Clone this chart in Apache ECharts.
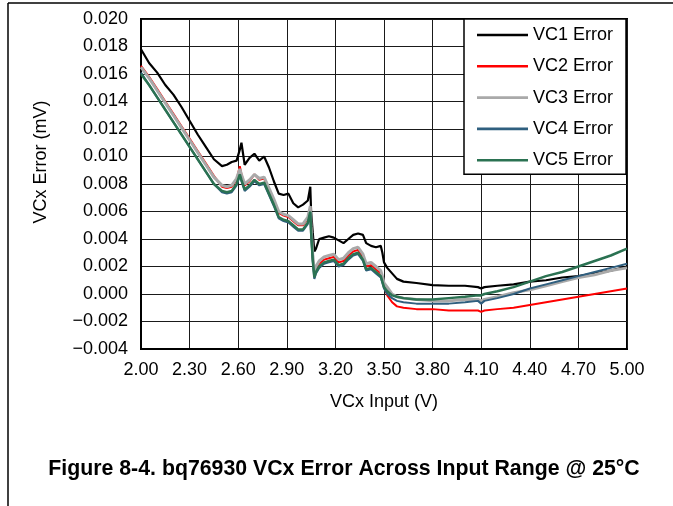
<!DOCTYPE html>
<html>
<head>
<meta charset="utf-8">
<script src="https://cdn.jsdelivr.net/npm/echarts@6/dist/echarts.min.js"></script>
<style>
html,body{margin:0;padding:0;background:#fff;}
#chart{width:673px;height:506px;}
</style>
</head>
<body>
<div id="chart"></div>
<script>
// ---- data ----
const seriesNames = ['VC1 Error', 'VC2 Error', 'VC3 Error', 'VC4 Error', 'VC5 Error'];
const xTickLabels = ['2.00','2.30','2.60','2.90','3.20','3.50','3.80','4.10','4.40','4.70','5.00'];
const yTickLabels = ['0.020','0.018','0.016','0.014','0.012','0.010','0.008','0.006','0.004','0.002','0.000','\u22120.002','\u22120.004'];

const vcxInput = [2.00,2.05,2.10,2.15,2.20,2.25,2.30,2.35,2.40,2.45,
  2.50,2.53,2.56,2.59,2.61,2.62,2.64,2.67,2.70,2.73,
  2.76,2.79,2.82,2.85,2.88,2.91,2.94,2.97,3.00,3.03,
  3.045,3.05,3.06,3.07,3.08,3.10,3.13,3.16,3.19,3.22,
  3.25,3.28,3.31,3.34,3.37,3.39,3.42,3.45,3.48,3.49,
  3.50,3.52,3.55,3.58,3.62,3.70,3.80,3.90,4.00,4.08,
  4.10,4.12,4.20,4.30,4.40,4.50,4.60,4.70,4.80,4.90,
  5.00];

const vc1Error = [0.0178,0.0168,0.0161,0.0152,0.0145,0.0136,0.0126,0.0116,0.0107,0.0098,
  0.0093,0.0094,0.0096,0.0097,0.0105,0.0110,0.0094,0.0099,0.0102,0.0097,
  0.0100,0.0092,0.0082,0.0073,0.0072,0.0073,0.0066,0.0063,0.0065,0.0068,
  0.0078,0.0060,0.0045,0.0031,0.0033,0.0040,0.0041,0.0042,0.0041,0.0039,
  0.0037,0.0040,0.0043,0.0044,0.0043,0.0037,0.0035,0.0034,0.0035,0.0030,
  0.0023,0.0019,0.0015,0.0011,0.0009,0.0008,0.00065,0.0006,0.0006,0.0005,
  0.0004,0.0005,0.0006,0.0007,0.0009,0.0010,0.0012,0.0013,0.0015,0.0017,
  0.0020];

const vc2Error = [0.0166,0.0158,0.0149,0.0140,0.0131,0.0122,0.0113,0.0104,0.0095,0.0086,
  0.0078,0.0077,0.0078,0.0083,0.0093,0.0087,0.0079,0.0082,0.0087,0.0083,
  0.0084,0.0076,0.0068,0.0059,0.0057,0.0056,0.0053,0.0050,0.0050,0.0055,
  0.0063,0.0048,0.0027,0.0014,0.0018,0.0022,0.0025,0.0026,0.0027,0.0023,
  0.0024,0.0028,0.0031,0.0032,0.0027,0.0020,0.0021,0.0018,0.0015,0.0010,
  0.0006,-0.0001,-0.0006,-0.0009,-0.0010,-0.0011,-0.0011,-0.0012,-0.0012,-0.0012,
  -0.0013,-0.0012,-0.0011,-0.0010,-0.0008,-0.0006,-0.0004,-0.0002,0.0000,0.0002,
  0.0004];

const vc3Error = [0.0165,0.0157,0.0148,0.0139,0.0130,0.0121,0.0112,0.0103,0.0094,0.0085,
  0.0079,0.0078,0.0079,0.0084,0.0091,0.0087,0.0080,0.0083,0.0087,0.0084,
  0.0085,0.0077,0.0069,0.0060,0.0058,0.0057,0.0054,0.0051,0.0051,0.0056,
  0.0064,0.0049,0.0029,0.0016,0.0020,0.0024,0.0027,0.0028,0.0029,0.0025,
  0.0026,0.0030,0.0033,0.0034,0.0029,0.0022,0.0023,0.0020,0.0017,0.0013,
  0.0008,0.0005,0.0000,-0.0002,-0.0003,-0.0004,-0.0005,-0.0005,-0.0004,-0.0004,
  -0.0005,-0.0004,-0.0002,0.0001,0.0003,0.0006,0.0009,0.0012,0.0014,0.0017,
  0.0019];

const vc4Error = [0.0161,0.0152,0.0143,0.0134,0.0125,0.0116,0.0107,0.0098,0.0089,0.0080,
  0.0074,0.0073,0.0074,0.0079,0.0086,0.0082,0.0075,0.0078,0.0082,0.0079,
  0.0080,0.0072,0.0064,0.0055,0.0053,0.0052,0.0049,0.0046,0.0046,0.0051,
  0.0059,0.0044,0.0024,0.0011,0.0015,0.0019,0.0022,0.0023,0.0024,0.0020,
  0.0021,0.0025,0.0028,0.0029,0.0024,0.0017,0.0018,0.0015,0.0012,0.0008,
  0.0004,0.0000,-0.0003,-0.0005,-0.0006,-0.0007,-0.0007,-0.0007,-0.0006,-0.0005,
  -0.0007,-0.0005,-0.0003,0.0000,0.0004,0.0007,0.0010,0.0013,0.0016,0.0019,
  0.0022];

const vc5Error = [0.0160,0.0152,0.0143,0.0134,0.0125,0.0116,0.0107,0.0098,0.0089,0.0080,
  0.0075,0.0074,0.0075,0.0080,0.0087,0.0083,0.0076,0.0079,0.0083,0.0080,
  0.0081,0.0073,0.0065,0.0056,0.0054,0.0053,0.0050,0.0047,0.0047,0.0052,
  0.0060,0.0045,0.0025,0.0012,0.0016,0.0020,0.0023,0.0024,0.0025,0.0021,
  0.0022,0.0026,0.0029,0.0030,0.0025,0.0018,0.0019,0.0016,0.0013,0.0009,
  0.0005,0.0002,-0.0001,-0.0002,-0.0003,-0.0004,-0.0004,-0.0003,-0.0002,-0.0001,
  -0.0001,0.0000,0.0002,0.0005,0.0009,0.0013,0.0016,0.0020,0.0024,0.0028,
  0.0033];

// ---- chart ----
const X0 = 2.0;          // axis origin (V); axis runs in offset units so ticks start at 0
const FONT = 'Liberation Sans, Arial, sans-serif';
const allSeries = [vc1Error, vc2Error, vc3Error, vc4Error, vc5Error];
const colors = ['#000000', '#ff0000', '#a9a9a9', '#2f5f7f', '#2b7252'];
const widths = [2.2, 2, 3, 2, 2.5];

const chart = echarts.init(document.getElementById('chart'), null, {renderer: 'canvas'});

const option = {
  animation: false,
  backgroundColor: '#ffffff',
  title: {
    text: 'Figure 8-4. bq76930 VCx Error Across Input Range @ 25\u00B0C',
    left: 344, top: 459, textAlign: 'center', padding: 0,
    textStyle: {fontFamily: FONT, fontSize: 21.3, fontWeight: 'bold', color: '#000'}
  },
  grid: {
    left: 141, top: 19, width: 486, height: 330,
    show: true, borderColor: '#000', borderWidth: 2, backgroundColor: 'transparent'
  },
  legend: {
    orient: 'vertical', left: 464, top: 19,
    padding: [7, 13, 5, 13],
    icon: 'rect',
    itemWidth: 51, itemHeight: 2.6, itemGap: 13.3,
    backgroundColor: '#fff', borderColor: '#000', borderWidth: 1.5, borderRadius: 0,
    textStyle: {fontFamily: FONT, fontSize: 18, color: '#000'},
    data: seriesNames,
    z: 10
  },
  xAxis: {
    type: 'value', min: 0, max: 3, interval: 0.3,
    name: 'VCx Input (V)', nameLocation: 'middle', nameGap: 44,
    nameTextStyle: {fontFamily: FONT, fontSize: 18, color: '#000'},
    axisLine: {show: true, onZero: false, lineStyle: {color: '#000', width: 2}},
    axisTick: {show: false},
    axisLabel: {
      margin: 12, fontFamily: FONT, fontSize: 18, color: '#000',
      formatter: v => { const i = Math.round(v / 0.3); return xTickLabels[i] !== undefined ? xTickLabels[i] : ''; }
    },
    splitLine: {show: true, lineStyle: {color: '#1a1a1a', width: 1}}
  },
  yAxis: {
    type: 'value', min: -0.004, max: 0.020, interval: 0.002,
    axisLine: {show: true, lineStyle: {color: '#000', width: 2}},
    axisTick: {show: false},
    axisLabel: {
      margin: 13, fontFamily: FONT, fontSize: 18, color: '#000',
      formatter: v => { const i = Math.round((0.020 - v) / 0.002); return yTickLabels[i] !== undefined ? yTickLabels[i] : ''; }
    },
    splitLine: {show: true, lineStyle: {color: '#1a1a1a', width: 1}}
  },
  graphic: [
    {type: 'line', shape: {x1: 8, y1: 3, x2: 673, y2: 3}, style: {stroke: '#000', lineWidth: 1.5}, z: 100},
    {type: 'line', shape: {x1: 8, y1: 3, x2: 8, y2: 506}, style: {stroke: '#000', lineWidth: 1.5}, z: 100},
    {type: 'text', x: 41, y: 162, rotation: Math.PI / 2,
      style: {text: 'VCx Error (mV)', font: '18px ' + FONT, fill: '#000',
        textAlign: 'center', textVerticalAlign: 'middle', align: 'center', verticalAlign: 'middle'}}
  ],
  series: seriesNames.map((name, k) => ({
    name: name, type: 'line', symbol: 'none', smooth: false,
    data: vcxInput.map((x, i) => [x - X0, allSeries[k][i]]),
    lineStyle: {color: colors[k], width: widths[k]},
    itemStyle: {color: colors[k]},
    z: 2 + k
  }))
};
chart.setOption(option);
</script>
</body>
</html>
